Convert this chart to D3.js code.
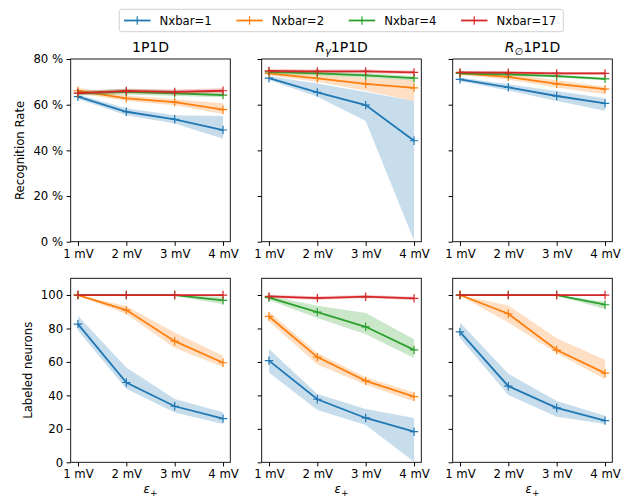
<!DOCTYPE html>
<html>
<head>
<meta charset="utf-8">
<script src="https://cdn.jsdelivr.net/npm/d3@7"></script>
<style>
  body { margin: 0; background: #fff; }
  svg { font-family: "DejaVu Sans", sans-serif; }
</style>
</head>
<body>
<div id="chart"></div>
<script>
// x values and labels
var xValues = [1, 2, 3, 4];
var xTickLabels = ["1 mV", "2 mV", "3 mV", "4 mV"];
var seriesNames = ["Nxbar=1", "Nxbar=2", "Nxbar=4", "Nxbar=17"];
var rateTicks = [0, 20, 40, 60, 80];
var neuronTicks = [0, 20, 40, 60, 80, 100];

// recognition rate (%), series order: Nxbar=1, 2, 4, 17
var rate1P1D    = [[63.5, 56.9, 53.6, 48.9], [66.1, 62.8, 61.1, 57.8], [65.0, 65.6, 65.0, 64.2], [65.1, 66.0, 65.6, 66.1]];
var rate1P1DLo  = [[62.5, 55.4, 51.8, 45.1], [65.0, 61.6, 59.8, 55.9], [64.0, 64.5, 63.8, 63.2], [64.2, 65.0, 64.6, 65.0]];
var rate1P1DHi  = [[64.5, 58.4, 55.4, 55.0], [67.4, 64.0, 62.4, 60.6], [66.0, 67.0, 66.2, 65.2], [66.0, 67.0, 66.6, 67.2]];

var rateRg    = [[71.6, 65.4, 59.8, 44.2], [73.7, 71.5, 69.1, 67.4], [74.4, 73.7, 72.8, 71.6], [74.8, 74.6, 74.6, 74.1]];
var rateRgLo  = [[70.8, 63.5, 52.8, 0.5], [72.8, 70.0, 66.1, 61.6], [73.6, 72.8, 71.8, 70.6], [74.0, 73.8, 73.8, 73.3]];
var rateRgHi  = [[72.5, 69.3, 65.6, 61.6], [74.6, 73.0, 71.7, 70.8], [75.2, 74.6, 73.8, 72.6], [75.6, 75.4, 75.4, 74.9]];

var rateRo    = [[71.1, 67.6, 63.8, 60.6], [73.7, 72.2, 69.1, 66.8], [73.7, 73.3, 72.5, 71.3], [74.1, 74.0, 73.7, 73.7]];
var rateRoLo  = [[70.3, 66.2, 61.6, 57.3], [73.0, 71.0, 67.5, 64.6], [73.1, 72.7, 71.9, 70.7], [73.5, 73.4, 73.1, 73.1]];
var rateRoHi  = [[71.9, 68.9, 66.0, 62.8], [74.4, 73.4, 70.7, 67.8], [74.3, 73.9, 73.1, 71.9], [74.7, 74.6, 74.3, 74.3]];

// labeled neurons
var neur1P1D   = [[82.6, 47.7, 33.5, 26.1], [100, 91.0, 72.4, 59.5], [100, 100, 100, 96.8], [100, 100, 100, 100]];
var neur1P1DLo = [[78.8, 43.9, 29.7, 22.9], [99.5, 88.6, 68.3, 56.9], [100, 100, 99.5, 94.5], [99.5, 99.5, 99.5, 99.5]];
var neur1P1DHi = [[87.6, 56.7, 37.9, 29.9], [100, 93.5, 77.6, 63.7], [100, 100, 100, 99.0], [100.5, 100.5, 100.5, 100.5]];

var neurRg   = [[60.8, 37.7, 26.5, 18.3], [87.2, 62.9, 48.7, 39.3], [98.4, 89.8, 81.0, 67.2], [99.2, 98.2, 99.0, 98.0]];
var neurRgLo = [[53.7, 31.3, 22.3, 0.4], [84.3, 58.4, 46.3, 36.4], [97.0, 86.2, 76.6, 62.3], [98.2, 97.2, 98.0, 97.0]];
var neurRgHi = [[67.7, 40.9, 31.9, 26.5], [90.0, 65.3, 50.9, 41.8], [99.5, 93.6, 89.2, 73.6], [100.2, 99.2, 100.0, 99.0]];

var neurRo   = [[78.0, 45.5, 32.5, 24.9], [100, 88.8, 67.1, 53.3], [100, 100, 100, 94.2], [100, 100, 100, 100]];
var neurRoLo = [[74.3, 40.3, 27.3, 22.9], [99.5, 83.6, 65.3, 49.7], [100, 100, 99.5, 91.6], [99.5, 99.5, 99.5, 99.5]];
var neurRoHi = [[83.6, 52.9, 36.7, 27.9], [100, 93.8, 74.2, 61.3], [100, 100, 100, 96.0], [100.5, 100.5, 100.5, 100.5]];

var colors = ["#1f77b4", "#ff7f0e", "#2ca02c", "#d62728"];

var width = 633, height = 500;
var colX = [70.7, 261.7, 452.7];
var panelW = 159.6;
var rows = [
  { top: 59, bottom: 241.7, domain: [0, 80], ticks: rateTicks, fmt: d => d + " %",
    data: [[rate1P1D, rate1P1DLo, rate1P1DHi], [rateRg, rateRgLo, rateRgHi], [rateRo, rateRoLo, rateRoHi]] },
  { top: 278.3, bottom: 462.3, domain: [0, 110], ticks: neuronTicks, fmt: d => d,
    data: [[neur1P1D, neur1P1DLo, neur1P1DHi], [neurRg, neurRgLo, neurRgHi], [neurRo, neurRoLo, neurRoHi]] }
];

var svg = d3.select("#chart").append("svg")
    .attr("width", width)
    .attr("height", height);
svg.append("rect").attr("width", width).attr("height", height).attr("fill", "#fff");

var tickFont = "11.7px";

rows.forEach(function (row, ri) {
  var y = d3.scaleLinear().domain(row.domain).range([row.bottom, row.top]);
  row.data.forEach(function (pd, ci) {
    var x = d3.scaleLinear().domain([0.85, 4.15]).range([colX[ci], colX[ci] + panelW]);
    var g = svg.append("g");

    var mean = pd[0], lo = pd[1], hi = pd[2];
    mean.forEach(function (vals, si) {
      var pts = xValues.map((xv, i) => ({ x: xv, m: vals[i], lo: lo[si][i], hi: hi[si][i] }));
      g.append("path")
        .attr("d", d3.area().x(d => x(d.x)).y0(d => y(d.lo)).y1(d => y(d.hi))(pts))
        .attr("fill", colors[si])
        .attr("fill-opacity", 0.25);
      g.append("path")
        .attr("d", d3.line().x(d => x(d.x)).y(d => y(d.m))(pts))
        .attr("fill", "none")
        .attr("stroke", colors[si])
        .attr("stroke-width", 1.8);
      g.selectAll(null).data(pts).enter().append("path")
        .attr("transform", d => "translate(" + x(d.x) + "," + y(d.m) + ")")
        .attr("d", "M-4.2,0H4.2M0,-4.2V4.2")
        .attr("stroke", colors[si])
        .attr("stroke-width", 1.2);
    });

    // frame
    g.append("rect")
      .attr("x", colX[ci]).attr("y", row.top)
      .attr("width", panelW).attr("height", row.bottom - row.top)
      .attr("fill", "none").attr("stroke", "#000").attr("stroke-width", 0.9);

    var xAxis = d3.axisBottom(x).tickValues(xValues).tickSize(4.1).tickPadding(3.5)
        .tickFormat((d, i) => xTickLabels[i]);
    var xa = g.append("g").attr("transform", "translate(0," + row.bottom + ")").call(xAxis);
    xa.select(".domain").remove();
    xa.selectAll("text").attr("fill", "#000").style("font-size", tickFont).style("font-family", "DejaVu Sans");

    var yAxis = d3.axisLeft(y).tickValues(row.ticks).tickSize(4.1).tickPadding(3.5)
        .tickFormat(ci === 0 ? row.fmt : "");
    var ya = g.append("g").attr("transform", "translate(" + colX[ci] + ",0)").call(yAxis);
    ya.select(".domain").remove();
    ya.selectAll("text").attr("fill", "#000").style("font-size", tickFont).style("font-family", "DejaVu Sans");

    if (ri === 1) {
      var xl = svg.append("text")
        .attr("x", colX[ci] + panelW / 2).attr("y", 493)
        .attr("text-anchor", "middle").style("font-size", tickFont);
      xl.append("tspan").style("font-style", "italic").text("ε");
      xl.append("tspan").attr("dy", 3).style("font-size", "9px").text("+");
    }
  });
});

// titles
var titleY = 52;
function centerOf(ci) { return colX[ci] + panelW / 2; }
svg.append("text").attr("x", centerOf(0)).attr("y", titleY)
  .attr("text-anchor", "middle").style("font-size", "14px").text("1P1D");
var t2 = svg.append("text").attr("x", centerOf(1)).attr("y", titleY)
  .attr("text-anchor", "middle").style("font-size", "14px");
t2.append("tspan").style("font-style", "italic").text("R");
t2.append("tspan").attr("dy", 3).style("font-size", "10px").style("font-style", "italic").text("γ");
t2.append("tspan").attr("dy", -3).text("1P1D");
var t3 = svg.append("text").attr("x", centerOf(2)).attr("y", titleY)
  .attr("text-anchor", "middle").style("font-size", "14px");
t3.append("tspan").style("font-style", "italic").text("R");
t3.append("tspan").attr("dy", 3).style("font-size", "10px").text("∅");
t3.append("tspan").attr("dy", -3).text("1P1D");

// y labels
svg.append("text")
  .attr("transform", "translate(24,150.4) rotate(-90)")
  .attr("text-anchor", "middle").style("font-size", tickFont).text("Recognition Rate");
svg.append("text")
  .attr("transform", "translate(32,370.3) rotate(-90)")
  .attr("text-anchor", "middle").style("font-size", tickFont).text("Labeled neurons");

// legend
var legend = svg.append("g");
legend.append("rect")
  .attr("x", 119.3).attr("y", 9.3).attr("width", 444).attr("height", 22.4)
  .attr("rx", 2.5).attr("fill", "#fff").attr("fill-opacity", 0.8)
  .attr("stroke", "#cccccc").attr("stroke-width", 0.9);
var legX = [124, 236.3, 348.7, 461];
seriesNames.forEach(function (name, i) {
  var lg = legend.append("g").attr("transform", "translate(" + legX[i] + ",20.5)");
  lg.append("line").attr("x1", 0).attr("x2", 26.5).attr("stroke", colors[i]).attr("stroke-width", 1.8);
  lg.append("path").attr("d", "M9,0H17.5M13.25,-4.2V4.2").attr("stroke", colors[i]).attr("stroke-width", 1.2);
  lg.append("text").attr("x", 35.5).attr("y", 4.2).style("font-size", tickFont).text(name);
});
</script>
</body>
</html>
